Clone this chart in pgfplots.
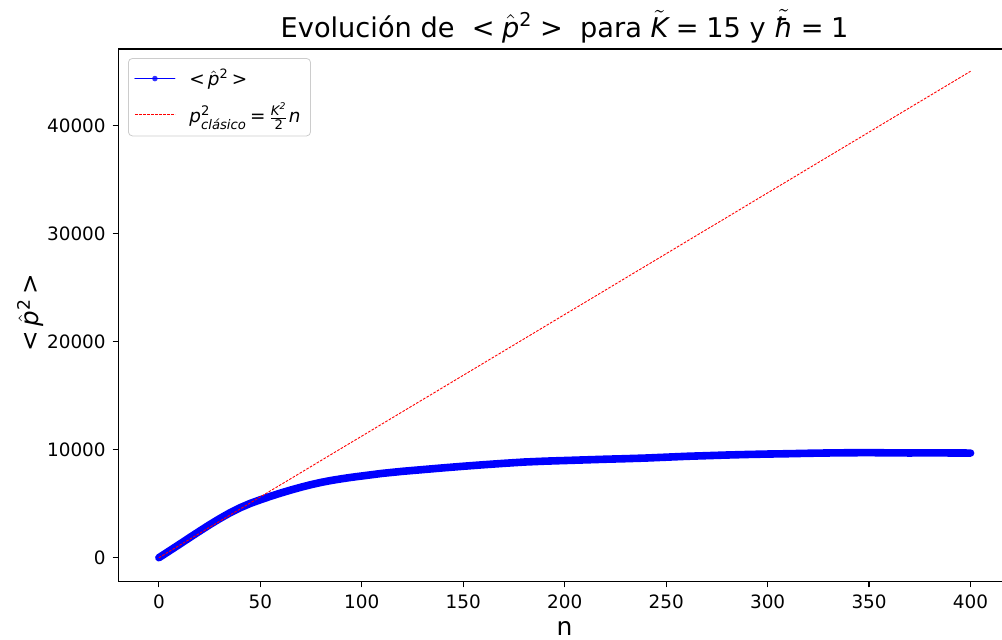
\documentclass[border=0pt]{standalone}
\usepackage{fontspec}
\setmainfont{DejaVu Sans}
\usepackage{pgfplots}
\pgfplotsset{compat=1.18}

% small text used in sub/superscripts of the legend
\newcommand{\sm}[1]{{\fontsize{6.6}{7}\selectfont #1}}
\newcommand{\phat}{\ensuremath{\hat{\mbox{\itshape p}}}}

\pgfplotstableread{
n    p2
0    0
5    610
10   1220
15   1840
20   2450
25   3050
30   3620
35   4150
40   4620
45   5020
50   5360
55   5680
60   5980
65   6260
70   6520
75   6760
80   6970
85   7150
90   7300
95   7440
100  7560
110  7800
120  7990
130  8150
140  8310
150  8460
160  8600
170  8730
180  8850
190  8930
200  8990
210  9050
220  9110
230  9160
240  9220
250  9300
260  9380
270  9440
280  9500
290  9550
300  9590
310  9620
320  9660
330  9690
340  9710
350  9720
360  9700
370  9690
380  9700
390  9690
400  9680
}\quantum

\pgfplotstableread{
n    p2
0    0
400  45000
}\clasico

\begin{document}
\begin{tikzpicture}
\begin{axis}[
  scale only axis,
  width=441.85pt, height=266.35pt,
  xmin=-20, xmax=415.5, ymin=-2220, ymax=47060,
  axis x line*=box, axis y line*=left,
  xtick pos=bottom, ytick pos=left,
  axis line style={line width=0.6pt, black},
  xtick={0,50,...,400}, ytick={0,10000,...,40000},
  tick align=outside, major tick length=2.8pt,
  every tick/.style={black, line width=0.6pt},
  scaled y ticks=false,
  /pgf/number format/1000 sep={},
  /pgf/number format/assume math mode=true,
  ticklabel style={font=\fontsize{9.2}{11}\selectfont},
  title={Evolución de\ \ <\;\phat\textsuperscript{2}\;>\ \ para \ensuremath{\tilde{\mbox{\itshape K}}}\;=\;15 y \ensuremath{\tilde{\mbox{\itshape ħ}}}\;=\;1},
  title style={font=\fontsize{13.6}{15}\selectfont, at={(axis description cs:0.505,1)}, anchor=base, yshift=0pt},
  xlabel={n},
  xlabel style={font=\fontsize{12.5}{14}\selectfont, at={(axis description cs:0.505,0)}, anchor=base, yshift=-27pt},
  ylabel={<\,\phat\textsuperscript{2}\,>},
  ylabel style={font=\fontsize{12.3}{14}\selectfont, at={(axis description cs:-0.0996,0.505)}, anchor=center},
  legend style={at={(axis description cs:0.011,0.983)}, anchor=north west,
    draw=black!20, rounded corners=2pt, fill=white, fill opacity=0.8, text opacity=1,
    font=\fontsize{9.2}{11}\selectfont, cells={anchor=west}, row sep=3pt,
    inner xsep=3pt, inner ysep=3pt},
  clip=true,
]
\addplot[blue, line width=3.8pt, line cap=round, line join=round,
  legend image code/.code={
    \draw[blue, line width=0.5pt] (0pt,0pt) -- (20pt,0pt);
    \fill[blue, draw=none] (10pt,0pt) circle (1.4pt);}]
  table[x=n, y=p2] {\quantum};
\addlegendentry{\hspace{5pt}<\,\phat\textsuperscript{2}\,>}
\addplot[red, line width=0.45pt, dash pattern=on 1.3pt off 0.7pt,
  legend image code/.code={
    \draw[red, line width=0.45pt, dash pattern=on 1.3pt off 0.7pt] (0pt,0pt) -- (20pt,0pt);}]
  table[x=n, y=p2] {\clasico};
\addlegendentry{\hspace{5pt}$\mbox{\itshape p}^{\mbox{\sm{2}}}_{\mbox{\sm{\itshape clásico}}}\mbox{\,=\,}\frac{\mbox{\sm{\itshape K\textsuperscript{2}}}}{\mbox{\sm{2}}}\mbox{\itshape n}$}
\end{axis}
\pgfresetboundingbox
\path (-59.15pt,-28.65pt) rectangle (441.85pt,290.85pt);
\end{tikzpicture}
\end{document}
